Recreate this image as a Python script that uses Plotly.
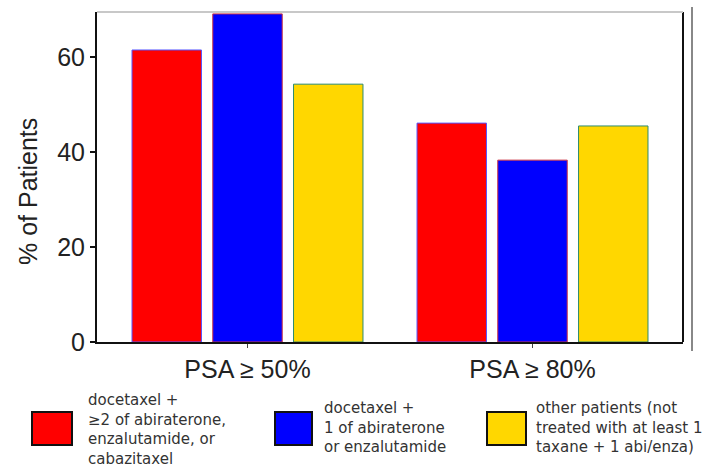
import plotly.graph_objects as go

categories = ["PSA ≥ 50%", "PSA ≥ 80%"]
series_names = [
    "docetaxel +<br>≥2 of abiraterone,<br>enzalutamide, or<br>cabazitaxel",
    "docetaxel +<br>1 of abiraterone<br>or enzalutamide",
    "other patients (not<br>treated with at least 1<br>taxane + 1 abi/enza)",
]
red_values = [61.5, 46.1]
blue_values = [69.1, 38.3]
yellow_values = [54.3, 45.5]
y_ticks = [0, 20, 40, 60]

fills = ["#FF0000", "#0000FF", "#FFD700"]
outlines = ["#5555FF", "#CC3344", "#2E8B6E"]
all_values = [red_values, blue_values, yellow_values]

W, H = 704, 468
L, R, T, B = 97, 683, 12, 342


def px(x):
    return (x - L) / (R - L)


def py(y):
    return (B - y) / (B - T)


fig = go.Figure()
for vals, fc, oc, nm in zip(all_values, fills, outlines, series_names):
    fig.add_trace(go.Bar(x=categories, y=vals, name=nm, marker=dict(color=fc, line=dict(color=oc, width=1)),
                         showlegend=False))

shapes = []
shapes.append(dict(type="line", xref="paper", yref="paper", x0=1, x1=1, y0=0, y1=1,
                   line=dict(color="#111111", width=2)))
shapes.append(dict(type="line", xref="paper", yref="paper", x0=0, x1=1, y0=1, y1=1,
                   line=dict(color="#C8C8C8", width=2)))
shapes.append(dict(type="line", xref="paper", yref="paper", x0=px(692), x1=px(692), y0=py(351), y1=py(7),
                   line=dict(color="#888888", width=2)))

annotations = []
sw = [(32, 72), (275, 312), (487, 526)]
tx = [86, 322, 534]
ty = [429, 427, 427]
for (x0, x1), t, yy, fc, nm in zip(sw, tx, ty, fills, series_names):
    shapes.append(dict(type="rect", xref="paper", yref="paper", x0=px(x0), x1=px(x1), y0=py(445), y1=py(412),
                       fillcolor=fc, line=dict(color="#111111", width=2)))
    annotations.append(dict(xref="paper", yref="paper", x=px(t), y=py(yy), text=nm, showarrow=False,
                            xanchor="left", yanchor="middle", align="left",
                            font=dict(family="DejaVu Sans", size=15, color="#333333")))

annotations.append(dict(xref="paper", yref="paper", x=px(28), y=py(192), text="% of Patients", showarrow=False,
                        textangle=-90, xanchor="center", yanchor="middle",
                        font=dict(family="Liberation Sans, Arial", size=25, color="#222222")))

fig.update_layout(
    width=W, height=H,
    margin=dict(l=L, r=W - R, t=T, b=H - B),
    plot_bgcolor="white", paper_bgcolor="white",
    barmode="group", bargap=0.15, bargroupgap=0.14,
    shapes=shapes, annotations=annotations,
    font=dict(family="Liberation Sans, Arial", size=25, color="#222222"),
)
fig.update_xaxes(range=[-0.528, 1.528], showline=True, linecolor="#111111", linewidth=2,
                 ticks="outside", ticklen=4, tickcolor="#444444", tickwidth=1,
                 tickfont=dict(size=25, color="#222222"), showgrid=False)
fig.update_yaxes(range=[0, 69.5], tickvals=y_ticks, showline=True, linecolor="#111111", linewidth=2,
                 ticks="outside", ticklen=5, tickcolor="#111111", tickwidth=1.5,
                 tickfont=dict(size=25, color="#222222"), showgrid=False, zeroline=False)

fig.write_html("out.html", config={"displayModeBar": False},
               post_script="document.body.style.margin='0';")
